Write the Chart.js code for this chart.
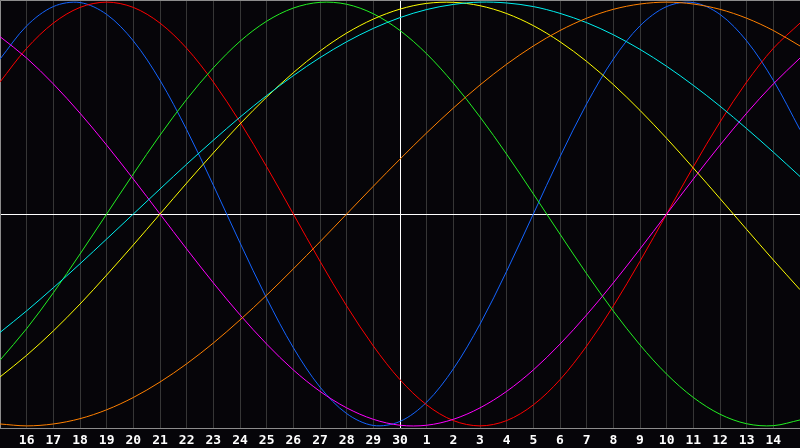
<!DOCTYPE html>
<html>
<head>
<meta charset="utf-8">
<script src="https://cdn.jsdelivr.net/npm/chart.js@4/dist/chart.umd.min.js"></script>
<style>
html,body{margin:0;padding:0;background:#060509;}
#wrap{width:800px;height:448px;}
</style>
</head>
<body>
<div id="wrap"><canvas id="c" width="800" height="448"></canvas></div>
<script>
// Day labels along the x axis (15th of previous month to 15th of this month)
const dayLabels = ['15','16','17','18','19','20','21','22','23','24','25','26','27','28','29','30',
                   '1','2','3','4','5','6','7','8','9','10','11','12','13','14','15'];
const todayIndex = 15;

// Series values, one per day
const blueSeries    = [0.731,0.888,0.979,0.998,0.942,0.817,0.631,0.398,0.136,-0.136,-0.398,-0.631,-0.817,-0.942,-0.998,-0.979,-0.888,-0.731,-0.520,-0.270,0.000,0.270,0.520,0.731,0.888,0.979,0.998,0.942,0.817,0.631,0.398];
const redSeries     = [0.623,0.782,0.901,0.975,1.000,0.975,0.901,0.782,0.623,0.434,0.223,0.000,-0.223,-0.434,-0.623,-0.782,-0.901,-0.975,-1.000,-0.975,-0.901,-0.782,-0.623,-0.434,-0.223,0.000,0.223,0.434,0.623,0.782,0.901];
const greenSeries   = [-0.690,-0.541,-0.372,-0.189,0.000,0.189,0.372,0.541,0.690,0.815,0.910,0.972,0.999,0.990,0.945,0.866,0.756,0.618,0.458,0.282,0.095,-0.095,-0.282,-0.458,-0.618,-0.756,-0.866,-0.945,-0.990,-0.999,-0.972];
const magentaSeries = [0.837,0.736,0.614,0.476,0.325,0.165,0.000,-0.165,-0.325,-0.476,-0.614,-0.736,-0.837,-0.915,-0.969,-0.997,-0.997,-0.969,-0.915,-0.837,-0.736,-0.614,-0.476,-0.325,-0.165,0.000,0.165,0.325,0.476,0.614,0.736];
const yellowSeries  = [-0.769,-0.667,-0.552,-0.425,-0.288,-0.146,0.000,0.146,0.288,0.425,0.552,0.667,0.769,0.854,0.920,0.967,0.994,0.999,0.983,0.946,0.889,0.813,0.720,0.611,0.489,0.357,0.217,0.073,-0.073,-0.217,-0.357];
const cyanSeries    = [-0.559,-0.457,-0.348,-0.235,-0.118,0.000,0.118,0.235,0.348,0.457,0.559,0.653,0.738,0.813,0.876,0.927,0.965,0.989,1.000,0.996,0.979,0.947,0.903,0.846,0.777,0.697,0.607,0.509,0.403,0.292,0.177];
const orangeSeries  = [-0.991,-1.000,-0.991,-0.966,-0.924,-0.866,-0.793,-0.707,-0.609,-0.500,-0.383,-0.259,-0.131,0.000,0.131,0.259,0.383,0.500,0.609,0.707,0.793,0.866,0.924,0.966,0.991,1.000,0.991,0.966,0.924,0.866,0.793];

const seriesColors = {
  orange:'#ff8000', cyan:'#00f0f0', yellow:'#ffff00', magenta:'#ff00ff',
  green:'#22f022', red:'#ff0000', blue:'#1464ff'
};

function ds(data, color){
  return {data, borderColor: color, borderWidth: 1, pointRadius: 0, fill: false, tension: 0.33};
}

const framePlugin = {
  id: 'frame',
  beforeDraw(chart){
    const c = chart.ctx;
    c.save();
    c.fillStyle = '#060509';
    c.fillRect(0, 0, chart.width, chart.height);
    c.restore();
  },
  beforeDatasetsDraw(chart){
    const c = chart.ctx, a = chart.chartArea;
    const y0 = Math.round(chart.scales.y.getPixelForValue(0)) + 0.5;
    c.save();
    c.strokeStyle = '#ffffff';
    c.lineWidth = 1;
    c.beginPath();
    c.moveTo(a.left, y0); c.lineTo(a.right, y0);
    c.stroke();
    c.strokeStyle = '#8c8c8c';
    c.beginPath();
    c.moveTo(0.5, a.bottom); c.lineTo(0.5, 0.5); c.lineTo(a.right, 0.5);
    c.stroke();
    c.restore();
  }
};

new Chart(document.getElementById('c'), {
  type: 'line',
  data: {
    labels: dayLabels,
    datasets: [
      ds(orangeSeries, seriesColors.orange),
      ds(cyanSeries, seriesColors.cyan),
      ds(yellowSeries, seriesColors.yellow),
      ds(magentaSeries, seriesColors.magenta),
      ds(greenSeries, seriesColors.green),
      ds(redSeries, seriesColors.red),
      ds(blueSeries, seriesColors.blue)
    ]
  },
  options: {
    responsive: false,
    animation: false,
    events: [],
    layout: {padding: 0},
    plugins: {legend: {display: false}, tooltip: {enabled: false}},
    scales: {
      x: {
        offset: false,
        afterFit: (s) => { s.paddingLeft = 0; s.paddingRight = 0; s.height = 20; },
        grid: {
          offset: false,
          drawTicks: false,
          color: (ctx) => ctx.index === todayIndex ? '#ffffff' : '#363636',
          lineWidth: 1
        },
        border: {display: true, color: '#8c8c8c', width: 1},
        ticks: {
          autoSkip: false, maxRotation: 0, minRotation: 0,
          padding: 5,
          color: '#ffffff',
          font: {family: 'DejaVu Sans Mono', size: 13, weight: 'bold'},
          callback: (v, i) => (i === 0 || i === dayLabels.length - 1) ? '' : dayLabels[i]
        }
      },
      y: {display: false, min: -1.01, max: 1.01}
    }
  },
  plugins: [framePlugin]
});
</script>
</body>
</html>
